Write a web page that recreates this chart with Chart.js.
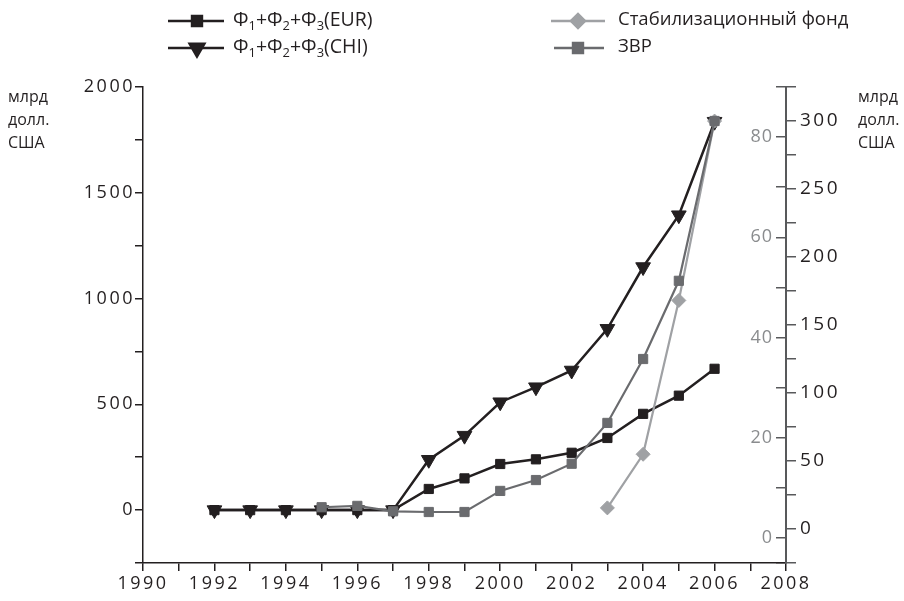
<!DOCTYPE html>
<html>
<head>
<meta charset="utf-8">
<script src="https://cdn.jsdelivr.net/npm/chart.js@4/dist/chart.umd.min.js"></script>
<style>
html,body{margin:0;padding:0;background:#fff;}
#wrap{position:relative;width:904px;height:601px;}
</style>
</head>
<body>
<div id="wrap"><canvas id="c" width="904" height="601"></canvas></div>
<script>
// ---- data ----
const years = [1992,1993,1994,1995,1996,1997,1998,1999,2000,2001,2002,2003,2004,2005,2006];
const eurValues = [0,0,0,0,0,0,100,150,218,240,271,341,455,541,668];
const chiValues = [0,0,0,0,0,0,238,352,510,581,660,857,1149,1394,1836];
const zvrYears = [1995,1996,1997,1998,1999,2000,2001,2002,2003,2004,2005,2006];
const zvrValues = [16,17,13,12.5,12.5,28,36,48,78,125,182.5,300];
const stabYears = [2003,2004,2005,2006];
const stabValues = [6,16.7,47.4,83.2];
const stabTickLabels = [0,20,40,60,80];

const legendLabels = {
  eur: [['Φ',0],['1',1],['+Φ',0],['2',1],['+Φ',0],['3',1],['(EUR)',0]],
  chi: [['Φ',0],['1',1],['+Φ',0],['2',1],['+Φ',0],['3',1],['(CHI)',0]],
  stab: [['Стабилизационный фонд',0]],
  zvr: [['ЗВР',0]]
};
const unitLines = ['млрд', 'долл.', 'США'];

const BLACK = '#231f20';
const DARKGRAY = '#6a6b6e';
const LIGHTGRAY = '#9fa1a4';
const AXISGRAY = '#58595b';
const LABELGRAY = '#8a8c8e';
const FONT = "'Open Sans', 'Noto Sans', sans-serif";

function pts(xs, ys){ return xs.map((x,i)=>({x:x, y:ys[i]})); }

const legendPlugin = {
  id: 'customLegend',
  beforeDraw(chart){ chart.ctx.letterSpacing = '2.5px'; },
  afterDraw(chart){
    const ctx = chart.ctx;
    ctx.save();
    // labels of the inner (stabilization fund) axis, left of the shared right axis line
    const sc = chart.scales.yStab;
    const xAxisPix = chart.scales.x.getPixelForValue(2008);
    ctx.font = '18px ' + FONT;
    ctx.letterSpacing = '1px';
    ctx.fillStyle = LABELGRAY;
    ctx.textAlign = 'right';
    ctx.textBaseline = 'middle';
    stabTickLabels.forEach(v => {
      ctx.fillText(String(v), xAxisPix - 13, sc.getPixelForValue(v));
    });

    ctx.letterSpacing = '0px';
    function drawParts(parts, x, y, size){
      let cx = x;
      ctx.textBaseline = 'middle';
      ctx.textAlign = 'left';
      ctx.fillStyle = BLACK;
      parts.forEach(p=>{
        if(p[1]){
          ctx.font = (size*0.66).toFixed(1)+'px '+FONT;
          ctx.fillText(p[0], cx, y+6);
        } else {
          ctx.font = size+'px '+FONT;
          ctx.fillText(p[0], cx, y);
        }
        cx += ctx.measureText(p[0]).width;
      });
    }
    function marker(style, x, y, color, r, lw, x0, x1){
      ctx.strokeStyle = color; ctx.lineWidth = lw;
      ctx.beginPath(); ctx.moveTo(x0,y); ctx.lineTo(x1,y); ctx.stroke();
      ctx.fillStyle = color;
      Chart.helpers.drawPoint(ctx, {pointStyle: style.s, rotation: style.rot||0, radius: r, borderWidth: 1}, x, y);
      ctx.fill();
    }
    // left column
    marker({s:'rect'}, 197, 21, BLACK, 7, 2.5, 168, 224);
    drawParts(legendLabels.eur, 233, 20, 19.5);
    marker({s:'triangle', rot:180}, 197, 48, BLACK, 8.5, 2.5, 168, 224);
    drawParts(legendLabels.chi, 233, 47, 19.5);
    // right column
    marker({s:'rectRot'}, 578, 21, LIGHTGRAY, 7, 2.5, 551, 605);
    drawParts(legendLabels.stab, 618, 20, 18.5);
    marker({s:'rect'}, 578, 48, DARKGRAY, 7, 2.5, 554, 604);
    drawParts(legendLabels.zvr, 618, 47, 18.5);
    // unit labels
    ctx.font = '16px '+FONT;
    ctx.fillStyle = BLACK;
    ctx.textBaseline = 'middle';
    unitLines.forEach((t,i)=>{
      ctx.fillText(t, 8, 97 + i*23);
      ctx.fillText(t, 858, 97 + i*23);
    });
    ctx.restore();
  }
};

const tickFont = {family: FONT, size: 18};

new Chart(document.getElementById('c'), {
  type: 'line',
  data: {
    datasets: [
      { label: 'ЗВР', data: pts(zvrYears, zvrValues), yAxisID: 'yZvr',
        borderColor: DARKGRAY, backgroundColor: DARKGRAY, borderWidth: 2.2,
        pointStyle: 'rect', pointRadius: 6.5, pointBorderWidth: 1 },
      { label: 'Стабилизационный фонд', data: pts(stabYears, stabValues), yAxisID: 'yStab',
        borderColor: LIGHTGRAY, backgroundColor: LIGHTGRAY, borderWidth: 2.2,
        pointStyle: 'rectRot', pointRadius: 7, pointBorderWidth: 1 },
      { label: 'Φ1+Φ2+Φ3(EUR)', data: pts(years, eurValues), yAxisID: 'y',
        borderColor: BLACK, backgroundColor: BLACK, borderWidth: 2.5,
        pointStyle: 'rect', pointRadius: 6.5, pointBorderWidth: 1 },
      { label: 'Φ1+Φ2+Φ3(CHI)', data: pts(years, chiValues), yAxisID: 'y',
        borderColor: BLACK, backgroundColor: BLACK, borderWidth: 2.5,
        pointStyle: 'triangle', rotation: 180, pointRadius: 8.5, pointBorderWidth: 1 }
    ]
  },
  options: {
    responsive: false,
    animation: false,
    events: [],
    layout: { padding: { top: 87, left: 0, right: 0, bottom: 0 } },
    plugins: { legend: { display: false }, tooltip: { enabled: false } },
    elements: { line: { tension: 0 } },
    scales: {
      x: {
        type: 'linear', min: 1990, max: 2008,
        ticks: { stepSize: 1, font: tickFont, color: BLACK, padding: 2, maxRotation: 0, autoSkip: false,
          callback: v => (v % 2 === 0 ? String(v) : '') },
        grid: { drawOnChartArea: false, drawTicks: true, tickLength: 8, color: BLACK, lineWidth: 1.5 },
        border: { display: true, color: BLACK, width: 1.5 },
        afterFit: s => { s.height = 38; }
      },
      y: {
        position: 'left', min: -250, max: 2000,
        ticks: { stepSize: 250, font: tickFont, color: BLACK, padding: 0, autoSkip: false,
          callback: v => (v % 500 === 0 ? String(v) : '') },
        grid: { drawOnChartArea: false, drawTicks: true, tickLength: 8, color: BLACK, lineWidth: 1.5 },
        border: { display: true, color: BLACK, width: 1.5 },
        afterFit: s => { s.width = 143; }
      },
      yZvr: {
        position: 'right', min: -25, max: 325,
        ticks: { stepSize: 25, font: {family: FONT, size: 19}, color: BLACK, padding: 4, autoSkip: false,
          callback: v => (v % 50 === 0 && v >= 0 && v <= 300 ? String(v) : '') },
        grid: { drawOnChartArea: false, drawTicks: true, tickLength: 10, color: AXISGRAY, lineWidth: 1.5 },
        border: { display: true, color: AXISGRAY, width: 2 },
        afterFit: s => { s.width = 118; }
      },
      yStab: {
        position: { x: 2008 }, min: -5, max: 90,
        ticks: { display: false, stepSize: 10 },
        grid: { drawOnChartArea: false, drawTicks: true, tickLength: 9, color: AXISGRAY, lineWidth: 1.5 },
        border: { display: true, color: AXISGRAY, width: 2 }
      }
    }
  },
  plugins: [legendPlugin]
});
</script>
</body>
</html>
